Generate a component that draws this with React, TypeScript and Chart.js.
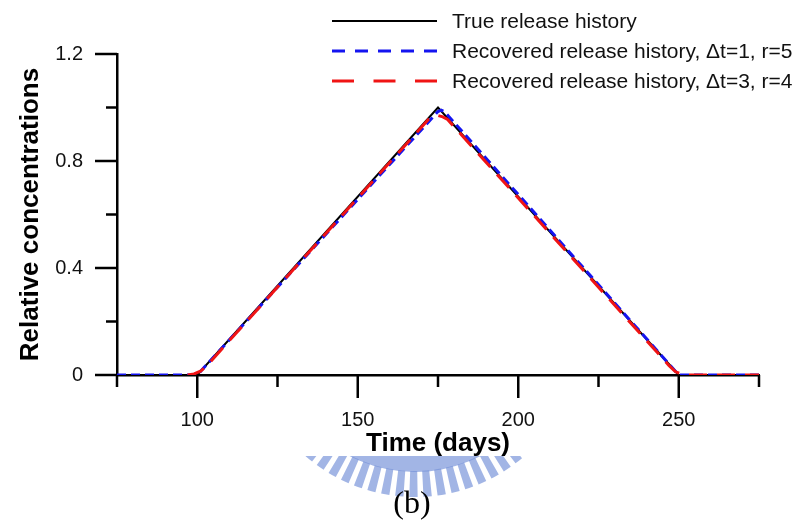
import React, { useEffect, useRef } from 'react';
import { Chart, registerables } from 'chart.js';

Chart.register(...registerables);

// ---- data ----
const trueDays = [75, 100, 175, 250, 275];
const trueValues = [0, 0, 1.0, 0, 0];

const dt1Days = [75, 100, 175, 176, 177, 250, 275];
const dt1Values = [0, 0, 0.985, 0.99, 0.985, 0, 0];

const dt3Days = [97, 99, 101, 103, 172, 173.5, 175, 176.5, 178, 247, 249, 251, 253, 275];
const dt3Values = [0, 0.004, 0.014, 0.035, 0.955, 0.965, 0.97, 0.965, 0.955, 0.035, 0.012, 0.003, 0, 0];

const xMajorTicks = [100, 150, 200, 250];
const yMajorTicks = [0, 0.4, 0.8, 1.2];

const seriesLabels = [
  'True release history',
  'Recovered release history, \u0394t=1, r=5',
  'Recovered release history, \u0394t=3, r=4',
];
const seriesColors = ['#000000', '#1414f0', '#f01414'];
const xTitle = 'Time (days)';
const yTitle = 'Relative concentrations';
const caption = '(b)';

const SANS = '"Liberation Sans", Arial, sans-serif';

const toPoints = (xs: number[], ys: number[]) => xs.map((x, i) => ({ x, y: ys[i] }));

const decorPlugin = {
  id: 'decor',
  beforeDraw(chart: any) {
    const ctx = chart.ctx as CanvasRenderingContext2D;
    // faint watermark logo below the x-axis title
    ctx.save();
    ctx.beginPath();
    ctx.rect(280, 456, 280, 60);
    ctx.clip();
    const cx = 415, cy = 330;
    ctx.fillStyle = 'rgba(118,146,216,0.68)';
    ctx.beginPath();
    ctx.arc(cx, cy, 142, 0.4, Math.PI - 0.4);
    ctx.arc(cx, cy, 125, Math.PI - 0.4, 0.4, true);
    ctx.closePath();
    ctx.fill();
    for (let a = 0.45; a < Math.PI - 0.45; a += 0.085) {
      ctx.beginPath();
      ctx.arc(cx, cy, 167, a, a + 0.05);
      ctx.arc(cx, cy, 141, a + 0.05, a, true);
      ctx.closePath();
      ctx.fill();
    }
    ctx.restore();
  },
  afterDraw(chart: any) {
    const ctx = chart.ctx as CanvasRenderingContext2D;
    const xs = chart.scales.x;
    const ys = chart.scales.y;
    ctx.save();
    // tick marks (major long, minor short)
    ctx.strokeStyle = '#000';
    ctx.lineWidth = 2.5;
    ctx.lineCap = 'butt';
    for (const t of xs.ticks) {
      const px = xs.getPixelForValue(t.value);
      const major = xMajorTicks.includes(Math.round(t.value));
      const len = major ? 23 : 12;
      ctx.beginPath();
      ctx.moveTo(px, xs.top);
      ctx.lineTo(px, xs.top + len);
      ctx.stroke();
    }
    for (const t of ys.ticks) {
      const py = ys.getPixelForValue(t.value);
      const major = yMajorTicks.includes(Math.round(t.value * 10) / 10);
      const len = major ? 22 : 11;
      ctx.beginPath();
      ctx.moveTo(ys.right, py);
      ctx.lineTo(ys.right - len, py);
      ctx.stroke();
    }

    // legend
    const rows = [21, 51, 81];
    const dashes = [[], [13, 10], [22, 19.5]];
    const widths = [2, 3, 3];
    ctx.textBaseline = 'middle';
    ctx.textAlign = 'left';
    ctx.font = '21px ' + SANS;
    rows.forEach((y, i) => {
      ctx.beginPath();
      ctx.setLineDash(dashes[i]);
      ctx.strokeStyle = seriesColors[i];
      ctx.lineWidth = widths[i];
      ctx.moveTo(332, y);
      ctx.lineTo(437, y);
      ctx.stroke();
      ctx.setLineDash([]);
      ctx.fillStyle = '#111';
      ctx.fillText(seriesLabels[i], 452, y + 1);
    });

    // caption
    ctx.font = '32px "Liberation Serif", "Times New Roman", serif';
    ctx.textAlign = 'center';
    ctx.fillStyle = '#000';
    ctx.fillText(caption, 412, 505);
    ctx.restore();
  },
};

export default function App() {
  const ref = useRef<HTMLCanvasElement | null>(null);

  useEffect(() => {
    if (!ref.current) return;
    const chart = new Chart(ref.current, {
      type: 'line',
      data: {
        datasets: [
          {
            label: seriesLabels[0],
            data: toPoints(trueDays, trueValues),
            borderColor: seriesColors[0],
            borderWidth: 2,
            pointRadius: 0,
            tension: 0,
            order: 3,
          },
          {
            label: seriesLabels[1],
            data: toPoints(dt1Days, dt1Values),
            borderColor: seriesColors[1],
            borderWidth: 3,
            borderDash: [9, 5],
            pointRadius: 0,
            tension: 0,
            order: 2,
          },
          {
            label: seriesLabels[2],
            data: toPoints(dt3Days, dt3Values),
            borderColor: seriesColors[2],
            borderWidth: 3,
            borderDash: [18, 10],
            pointRadius: 0,
            tension: 0,
            order: 1,
          },
        ],
      },
      options: {
        animation: false,
        responsive: false,
        maintainAspectRatio: false,
        layout: { padding: { top: 54, right: 45, left: 0, bottom: 0 } },
        plugins: {
          legend: { display: false },
          tooltip: { enabled: false },
        },
        scales: {
          x: {
            type: 'linear',
            min: 75,
            max: 275,
            grid: { display: false, drawTicks: false },
            border: { display: true, color: '#000', width: 2.5 },
            ticks: {
              stepSize: 25,
              autoSkip: false,
              maxRotation: 0,
              padding: 33,
              color: '#111',
              font: { family: SANS, size: 20 },
              callback: (v: any) => (xMajorTicks.includes(Math.round(Number(v))) ? String(v) : ''),
            },
            title: {
              display: true,
              text: xTitle,
              color: '#000',
              font: { family: SANS, size: 26, weight: 'bold', lineHeight: 1.2 },
              padding: { top: 0, bottom: 67 },
            },
            afterFit: (s: any) => {
              s.height = 151;
            },
          },
          y: {
            type: 'linear',
            min: 0,
            max: 1.2,
            grid: { display: false, drawTicks: false },
            border: { display: true, color: '#000', width: 2.5 },
            ticks: {
              stepSize: 0.2,
              autoSkip: false,
              padding: 34,
              color: '#111',
              font: { family: SANS, size: 20 },
              callback: (v: any) => {
                const r = Math.round(Number(v) * 10) / 10;
                return yMajorTicks.includes(r) ? String(r) : '';
              },
            },
            title: {
              display: true,
              text: yTitle,
              color: '#000',
              font: { family: SANS, size: 26, weight: 'bold', lineHeight: 1.2 },
              padding: { top: 15, bottom: 0 },
            },
            afterFit: (s: any) => {
              s.width = 117;
            },
          },
        },
      } as any,
      plugins: [decorPlugin],
    });
    return () => chart.destroy();
  }, []);

  return (
    <div style={{ position: 'absolute', left: 0, top: 0, width: 804, height: 526, background: '#fff' }}>
      <canvas ref={ref} width={804} height={526} style={{ width: 804, height: 526, display: 'block' }} />
    </div>
  );
}
